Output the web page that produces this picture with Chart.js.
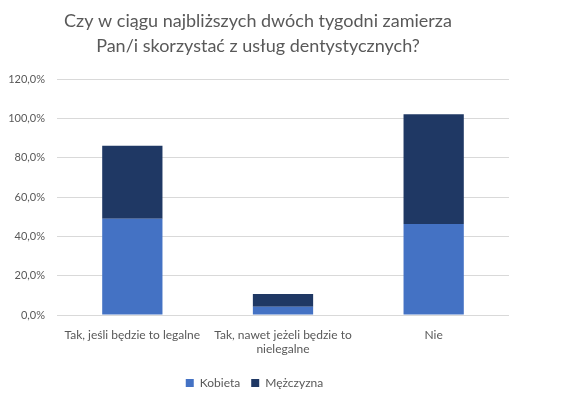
<!DOCTYPE html>
<html>
<head>
<meta charset="utf-8">
<script src="https://cdn.jsdelivr.net/npm/chart.js@4.4.1/dist/chart.umd.min.js"></script>
<style>
  html, body { margin: 0; padding: 0; background: #fff; }
  #wrap { width: 569px; height: 404px; }
</style>
</head>
<body>
<div id="wrap"><canvas id="chart"></canvas></div>
<script>
// Categories and series (percent values)
const categories = [
    'Tak, jeśli będzie to legalne',
    ['Tak, nawet jeżeli będzie to', 'nielegalne'],
    'Nie'
];
const kobieta = [48.9, 4.2, 46.3];
const mezczyzna = [37.1, 6.5, 55.8];
const titleLines = ['Czy w ciągu najbliższych dwóch tygodni zamierza', 'Pan/i skorzystać z usług dentystycznych?'];

const textColor = '#595959';
const fontFamily = 'Lato, "Open Sans", sans-serif';

// Title is drawn by hand so it can sit a bit left of centre, like the original
const titlePlugin = {
    id: 'sideTitle',
    afterDraw(chart) {
        const ctx = chart.ctx;
        ctx.save();
        ctx.font = '18px ' + fontFamily;
        ctx.fillStyle = textColor;
        ctx.textAlign = 'center';
        ctx.textBaseline = 'middle';
        titleLines.forEach((line, i) => ctx.fillText(line, 258, 21 + i * 25));
        ctx.restore();
    }
};

const config = {
    type: 'bar',
    data: {
        labels: categories,
        datasets: [
            { label: 'Kobieta', data: kobieta, backgroundColor: '#4472C4' },
            { label: 'Mężczyzna', data: mezczyzna, backgroundColor: '#1F3864' }
        ]
    },
    plugins: [titlePlugin],
    options: {
        responsive: true,
        maintainAspectRatio: false,
        animation: false,
        layout: { padding: { left: 0, right: 60, top: 79, bottom: 5 } },
        datasets: { bar: { barPercentage: 0.4, categoryPercentage: 1.0 } },
        plugins: {
            title: { display: false },
            legend: {
                position: 'bottom',
                labels: {
                    color: textColor,
                    font: { family: fontFamily, size: 12 },
                    boxWidth: 8,
                    boxHeight: 8,
                    padding: 11
                }
            },
            tooltip: { enabled: false }
        },
        scales: {
            x: {
                stacked: true,
                grid: { display: false },
                border: { display: false },
                ticks: {
                    color: textColor,
                    font: { family: fontFamily, size: 12 },
                    maxRotation: 0,
                    padding: 5
                },
                afterFit: (scale) => { scale.height = 51; }
            },
            y: {
                stacked: true,
                min: 0,
                max: 120,
                ticks: {
                    stepSize: 20,
                    color: textColor,
                    font: { family: fontFamily, size: 11 },
                    padding: 12,
                    callback: (v) => v.toFixed(1).replace('.', ',') + '%'
                },
                grid: { color: '#D9D9D9', drawTicks: false },
                border: { display: false },
                afterFit: (scale) => { scale.width = 57; }
            }
        }
    }
};

new Chart(document.getElementById('chart'), config);
</script>
</body>
</html>
